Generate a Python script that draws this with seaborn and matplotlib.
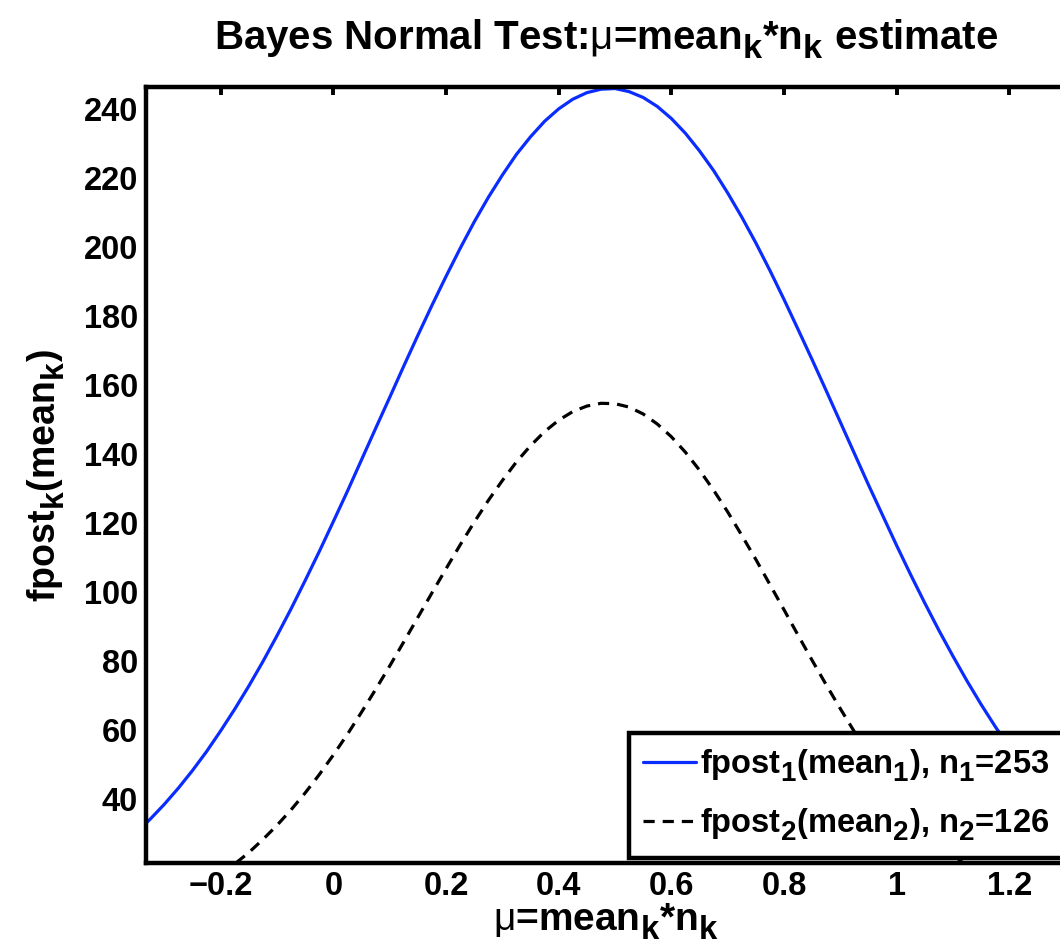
import numpy as np
import pandas as pd
import matplotlib
matplotlib.use('Agg')
import matplotlib.pyplot as plt
import matplotlib._mathtext as mt
import seaborn as sns

# values
mu_1 = [-0.350, -0.325, -0.300, -0.275, -0.250, -0.225, -0.200, -0.175, -0.150, -0.125,
        -0.100, -0.075, -0.050, -0.025, 0.000, 0.025, 0.050, 0.075, 0.100, 0.125,
        0.150, 0.175, 0.200, 0.225, 0.250, 0.275, 0.300, 0.325, 0.350, 0.375,
        0.400, 0.425, 0.450, 0.475, 0.500, 0.525, 0.550, 0.575, 0.600, 0.625,
        0.650, 0.675, 0.700, 0.725, 0.750, 0.775, 0.800, 0.825, 0.850, 0.875,
        0.900, 0.925, 0.950, 0.975, 1.000, 1.025, 1.050, 1.075, 1.100, 1.125,
        1.150, 1.175, 1.200, 1.225, 1.250, 1.275, 1.300, 1.325, 1.350]
fpost_1 = [30.1, 34.1, 38.4, 43.1, 48.2, 53.7, 59.7, 66.0, 72.7, 79.8,
           87.3, 95.1, 103.3, 111.7, 120.4, 129.2, 138.3, 147.4, 156.4, 165.5,
           174.4, 183.1, 191.5, 199.6, 207.3, 214.4, 220.9, 226.9, 232.0, 236.5,
           240.1, 242.9, 244.8, 245.8, 246.0, 245.1, 243.4, 240.8, 237.3, 233.0,
           227.9, 222.2, 215.7, 208.7, 201.2, 193.2, 184.8, 176.1, 167.3, 158.3,
           149.2, 140.1, 131.0, 122.2, 113.4, 104.9, 96.7, 88.8, 81.3, 74.1,
           67.3, 60.9, 54.9, 49.3, 44.1, 39.3, 34.9, 30.9, 27.2]

mu_2 = [-0.200, -0.175, -0.150, -0.125, -0.100, -0.075, -0.050, -0.025, 0.000, 0.025,
        0.050, 0.075, 0.100, 0.125, 0.150, 0.175, 0.200, 0.225, 0.250, 0.275,
        0.300, 0.325, 0.350, 0.375, 0.400, 0.425, 0.450, 0.475, 0.500, 0.525,
        0.550, 0.575, 0.600, 0.625, 0.650, 0.675, 0.700, 0.725, 0.750, 0.775,
        0.800, 0.825, 0.850, 0.875, 0.900, 0.925, 0.950, 0.975, 1.000, 1.025,
        1.050, 1.075, 1.100, 1.125, 1.150]
fpost_2 = [18.1, 21.1, 24.4, 28.2, 32.3, 36.8, 41.7, 47.0, 52.7, 58.7,
           65.1, 71.7, 78.5, 85.5, 92.6, 99.7, 106.7, 113.6, 120.2, 126.5,
           132.3, 137.7, 142.4, 146.5, 149.8, 152.3, 153.9, 154.7, 154.6, 153.6,
           151.6, 148.7, 145.0, 140.5, 135.3, 129.5, 123.2, 116.4, 109.4, 102.1,
           94.8, 87.4, 80.1, 73.0, 66.1, 59.4, 53.1, 47.2, 41.7, 36.6,
           31.9, 27.7, 23.8, 20.4, 17.4]

labels = [r'fpost$_\mathbf{1}$(mean$_\mathbf{1}$), n$_\mathbf{1}$=253',
          r'fpost$_\mathbf{2}$(mean$_\mathbf{2}$), n$_\mathbf{2}$=126']

xticks = [-0.2, 0, 0.2, 0.4, 0.6, 0.8, 1, 1.2]
xticklabels = ['\u22120.2', '0', '0.2', '0.4', '0.6', '0.8', '1', '1.2']
yticks = [40, 60, 80, 100, 120, 140, 160, 180, 200, 220, 240]

df1 = pd.DataFrame({'mu': mu_1, 'fpost': fpost_1})
df2 = pd.DataFrame({'mu': mu_2, 'fpost': fpost_2})

sns.set_theme(style='white')
plt.rcParams['font.family'] = ['Liberation Sans', 'DejaVu Sans']
plt.rcParams['font.weight'] = 'bold'
plt.rcParams['text.color'] = 'black'
plt.rcParams['axes.labelcolor'] = 'black'
plt.rcParams['xtick.color'] = 'black'
plt.rcParams['ytick.color'] = 'black'
plt.rcParams['mathtext.fontset'] = 'custom'
plt.rcParams['mathtext.rm'] = 'Liberation Sans:weight=normal'
plt.rcParams['mathtext.bf'] = 'Liberation Sans:weight=bold'
plt.rcParams['mathtext.it'] = 'Liberation Sans:weight=normal'
# MATLAB-like subscripts: bigger and lower
mt.SHRINK_FACTOR = 0.85
mt.FontConstantsBase.sub1 = 0.45

MU = '$\\mathrm{\u03bc}$'

fig = plt.figure(figsize=(10.6, 9.51), dpi=100)
ax = fig.add_axes([0.138, 0.093, 0.894, 0.815])

sns.lineplot(data=df1, x='mu', y='fpost', ax=ax, color='#0a2cff', lw=2.3,
             label=labels[0], sort=False)
sns.lineplot(data=df2, x='mu', y='fpost', ax=ax, color='black', lw=2.3,
             label=labels[1], sort=False)
ax.lines[1].set_dashes((3.5, 2.5))

ax.set_xlim(-0.332, 1.35)
ax.set_ylim(21.5, 246.3)
ax.set_xticks(xticks)
ax.set_xticklabels(xticklabels)
ax.set_yticks(yticks)

for s in ax.spines.values():
    s.set_linewidth(3.2)
    s.set_color('black')
ax.tick_params(direction='in', length=6, width=2.8, labelsize=23.5,
               top=True, right=True, colors='black', pad=6)
for t in ax.get_xticklabels() + ax.get_yticklabels():
    t.set_fontweight('bold')

ax.set_title('Bayes Normal Test:' + MU + r'=mean$_\mathbf{k}$*n$_\mathbf{k}$ estimate',
             fontsize=29, fontweight='bold', pad=28, x=0.485)
ax.set_xlabel(MU + r'=mean$_\mathbf{k}$*n$_\mathbf{k}$', fontsize=28,
              fontweight='bold', labelpad=0, x=0.485)
ax.set_ylabel(r'fpost$_\mathbf{k}$(mean$_\mathbf{k}$)', fontsize=27,
              fontweight='bold', labelpad=12)

leg = ax.legend(loc='upper left', bbox_to_anchor=(0.509, 0.167), borderaxespad=0,
                fontsize=23.5, frameon=True, fancybox=False, framealpha=1,
                edgecolor='black', handlelength=1.6, handletextpad=0.15,
                labelspacing=0.7, borderpad=0.45)
leg.get_frame().set_linewidth(3.2)
for t in leg.get_texts():
    t.set_fontweight('bold')

fig.savefig('out.png', dpi=100)
